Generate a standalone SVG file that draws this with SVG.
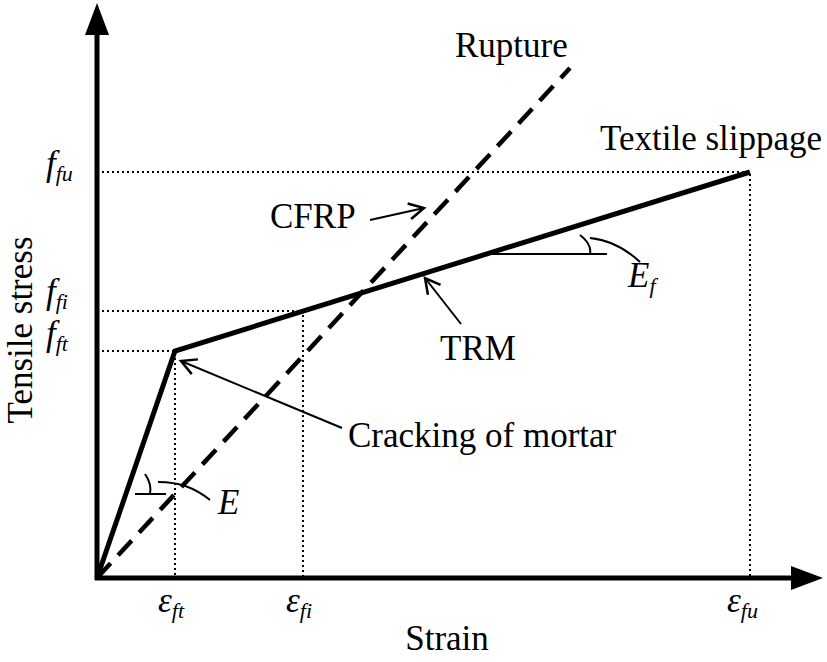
<svg xmlns="http://www.w3.org/2000/svg" width="827" height="662" viewBox="0 0 827 662">
<style>
.t{font-family:"Liberation Serif",serif;font-size:35px;fill:#000}
.i{font-style:italic}
.dot{stroke:#000;stroke-width:2;stroke-dasharray:2,3;fill:none}
.thin{stroke:#000;stroke-width:2;fill:none}
</style>
<defs>
<marker id="oa" markerWidth="20" markerHeight="20" refX="16" refY="9" orient="auto" markerUnits="userSpaceOnUse">
<path d="M1,1 L16,9 L1,17" fill="none" stroke="#000" stroke-width="2.5"/>
</marker>
</defs>
<rect width="827" height="662" fill="#fff"/>
<g id="axes">
<line x1="97" y1="580" x2="97" y2="30" stroke="#000" stroke-width="5"/>
<polygon points="97,3 85,35 109,35" fill="#000"/>
<line x1="95" y1="578" x2="795" y2="578" stroke="#000" stroke-width="5"/>
<polygon points="823,578 791,566 791,590" fill="#000"/>
</g>
<g id="connectors">
<path class="dot" d="M97,172H750V578M97,311H303V578M97,351H175V578"/>
<polyline points="97,578 175,351 750,172" fill="none" stroke="#000" stroke-width="5"/>
<line x1="97" y1="578" x2="570" y2="68" stroke="#000" stroke-width="4.5" stroke-dasharray="20,11"/>
<line x1="370" y1="220" x2="424" y2="208" class="thin" marker-end="url(#oa)"/>
<line x1="461" y1="324" x2="425" y2="278" class="thin" marker-end="url(#oa)"/>
<line x1="342" y1="428" x2="181" y2="361" class="thin" marker-end="url(#oa)"/>
<line x1="490" y1="254" x2="607" y2="254" class="thin"/>
<path class="thin" d="M580,235 Q592,244 590,254 M590,238 C610,240 625,248 640,262"/>
<line x1="135" y1="494" x2="166" y2="494" class="thin"/>
<path class="thin" d="M145,474 Q152,484 150,494 M158,482 C180,482 195,488 210,500"/>
</g>
<g id="labels">
<text class="t" x="455" y="57">Rupture</text>
<text class="t" x="600" y="150">Textile slippage</text>
<text class="t" x="270" y="228">CFRP</text>
<text class="t" x="440" y="360">TRM</text>
<text class="t" x="348" y="447">Cracking of mortar</text>
<text class="t i" x="628" y="287">E<tspan font-size="22" dy="6">f</tspan></text>
<text class="t i" x="218" y="514">E</text>
<text class="t i" x="46" y="175">f<tspan font-size="22" dy="6">fu</tspan></text>
<text class="t i" x="46" y="303">f<tspan font-size="22" dy="6">fi</tspan></text>
<text class="t i" x="46" y="345">f<tspan font-size="22" dy="6">ft</tspan></text>
<text class="t i" x="158" y="612">ε<tspan font-size="22" dy="6">ft</tspan></text>
<text class="t i" x="286" y="612">ε<tspan font-size="22" dy="6">fi</tspan></text>
<text class="t i" x="727" y="612">ε<tspan font-size="22" dy="6">fu</tspan></text>
<text class="t" x="447" y="650" text-anchor="middle">Strain</text>
<text class="t" transform="translate(32,330) rotate(-90)" text-anchor="middle">Tensile stress</text>
</g>
</svg>
